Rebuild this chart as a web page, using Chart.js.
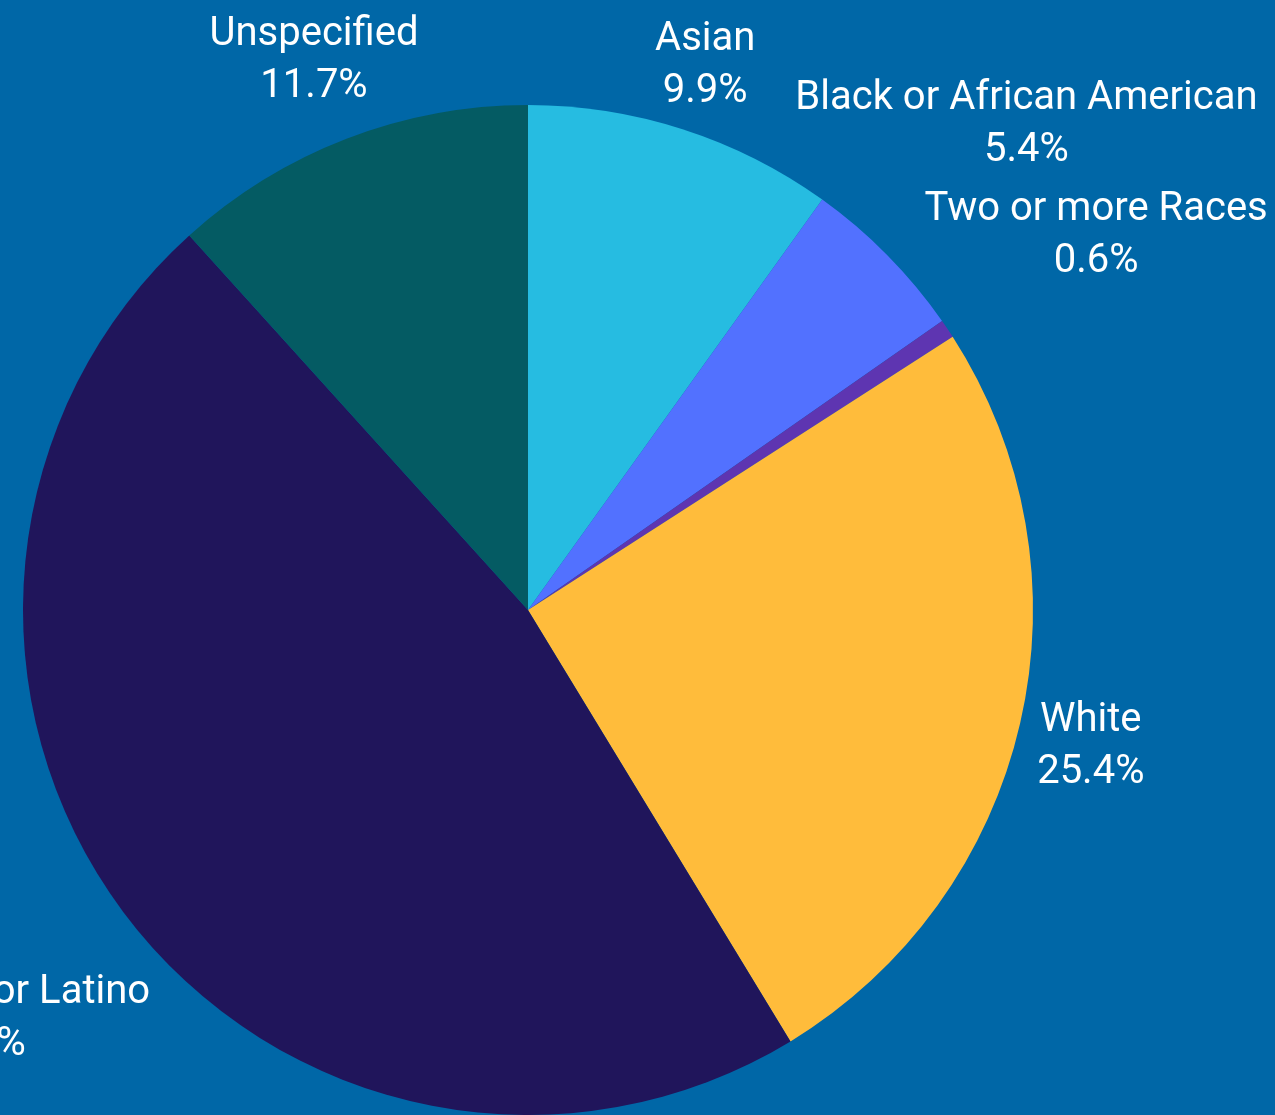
<!DOCTYPE html>
<html>
<head>
<meta charset="utf-8">
<script src="https://cdn.jsdelivr.net/npm/chart.js@4"></script>
<style>
  html, body { margin: 0; padding: 0; background: #0067A7; }
  #wrap { width: 1275px; height: 1115px; position: relative; }
</style>
</head>
<body>
<div id="wrap"><canvas id="chart"></canvas></div>
<script>
var categories = ['Asian', 'Black or African American', 'Two or more Races', 'White', 'Hispanic or Latino', 'Unspecified'];
var shares = [9.9, 5.4, 0.6, 25.4, 47.0, 11.7];
var colors = ['#26BCE1', '#5271FF', '#5E35B1', '#FFBC3B', '#20155B', '#045B63'];

// label box goes out along the slice middle until its nearest corner clears the rim
var outsideLabels = {
    id: 'outsideLabels',
    afterDatasetsDraw: function(chart) {
        var ctx = chart.ctx;
        var meta = chart.getDatasetMeta(0);
        var lineH = 52;
        var gap = 10;
        var textDrop = 7; // glyphs sit a bit low inside the box
        ctx.save();
        ctx.font = '400 40px Roboto';
        ctx.fillStyle = '#ffffff';
        ctx.textAlign = 'center';
        ctx.textBaseline = 'middle';
        meta.data.forEach(function(arc, i) {
            var p = arc.getProps(['x', 'y', 'startAngle', 'endAngle', 'outerRadius'], true);
            var mid = (p.startAngle + p.endAngle) / 2;
            var vx = Math.cos(mid), vy = Math.sin(mid);
            var lines = [categories[i], parseFloat(shares[i].toFixed(1)) + '%'];
            var a = Math.max(ctx.measureText(lines[0]).width, ctx.measureText(lines[1]).width) / 2;
            var b = lines.length * lineH / 2;
            var need = p.outerRadius + gap;
            var d = p.outerRadius;
            while (d < p.outerRadius + 600) {
                var bx = vx * d, by = vy * d;
                var nx = Math.max(Math.abs(bx) - a, 0), ny = Math.max(Math.abs(by) - b, 0);
                if (Math.sqrt(nx * nx + ny * ny) >= need) break;
                d += 0.5;
            }
            var cx = p.x + vx * d, cy = p.y + vy * d + textDrop;
            ctx.fillText(lines[0], cx, cy - lineH / 2);
            ctx.fillText(lines[1], cx, cy + lineH / 2);
        });
        ctx.restore();
    }
};

document.addEventListener("DOMContentLoaded", function() {
    var ctx = document.getElementById('chart').getContext('2d');
    var chart = new Chart(ctx, {
        type: 'pie',
        data: {
            labels: categories,
            datasets: [{
                data: shares,
                backgroundColor: colors,
                borderWidth: 0
            }]
        },
        options: {
            responsive: true,
            maintainAspectRatio: false,
            animation: false,
            layout: {
                padding: { left: 0, right: 219, top: 105, bottom: 0 }
            },
            plugins: {
                legend: { display: false },
                tooltip: { enabled: false }
            }
        },
        plugins: [outsideLabels]
    });
});
</script>
</body>
</html>
